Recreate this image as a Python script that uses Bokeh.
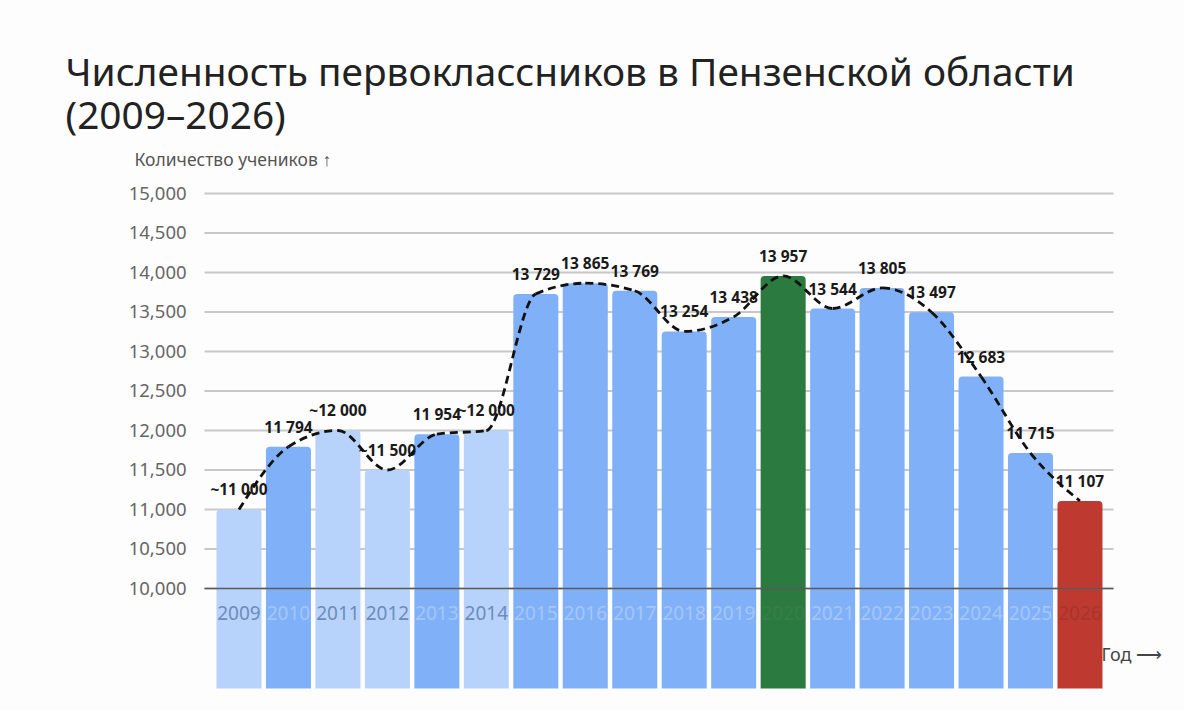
import numpy as np
from bokeh.plotting import figure
from bokeh.models import ColumnDataSource, Label
from bokeh.core.properties import value
from bokeh.embed import file_html
from bokeh.resources import INLINE

# data
years = list(range(2009, 2027))
pupils = [11000, 11794, 12000, 11500, 11954, 12000, 13729, 13865, 13769,
          13254, 13438, 13957, 13544, 13805, 13497, 12683, 11715, 11107]
approx = [True, False, True, True, False, True, False, False, False,
          False, False, False, False, False, False, False, False, False]
best_year = 2020
last_year = 2026
y_ticks = [10000, 10500, 11000, 11500, 12000, 12500, 13000, 13500, 14000, 14500, 15000]

FONT = "Noto Sans"
BG = "#fdfdfd"

# the frame fills the whole canvas; the plot area is drawn inside it
W, H = 1184, 711
X_RANGE = (2004.179, 2028.113)
Y_RANGE = (8443, 17443)
GRID_LEFT, GRID_RIGHT = 2008.303, 2026.677
TICK_X = 2007.94
BOTTOM = 8734
YEAR_Y = 9684


def bar_color(year, is_approx):
    if year == best_year:
        return "#2b7a3f", "#367f48"
    if year == last_year:
        return "#be3a30", "#a8342b"
    if is_approx:
        return "#b8d3fb", "#6d8cbb"
    return "#80b1f8", "#a4c6fa"


def fmt(v, is_approx):
    s = f"{v:,}".replace(",", " ")
    return "~" + s if is_approx else s


colors = [bar_color(y, a) for y, a in zip(years, approx)]
source = ColumnDataSource(data={
    'year': years,
    'pupils': pupils,
    'fill': [c[0] for c in colors],
    'year_color': [c[1] for c in colors],
    'label': [fmt(v, a) for v, a in zip(pupils, approx)],
    'year_text': [str(y) for y in years],
})

ticks = ColumnDataSource(data={
    'y': y_ticks,
    'text': [f"{v:,}" for v in y_ticks],
})

# monotone cubic (like d3.curveMonotoneX) through the bar tops, drawn as beziers
xs = np.array(years, dtype=float)
ys = np.array(pupils, dtype=float)
h = np.diff(xs)
s = np.diff(ys) / h
t = np.zeros(len(xs))
for i in range(1, len(xs) - 1):
    p_ = (s[i - 1] * h[i] + s[i] * h[i - 1]) / (h[i - 1] + h[i])
    t[i] = (np.sign(s[i - 1]) + np.sign(s[i])) * min(abs(s[i - 1]), abs(s[i]), 0.5 * abs(p_))
t[0] = (3 * s[0] - t[1]) / 2
t[-1] = (3 * s[-1] - t[-2]) / 2
curve = ColumnDataSource(data={
    'x0': xs[:-1], 'y0': ys[:-1], 'x1': xs[1:], 'y1': ys[1:],
    'cx0': xs[:-1] + h / 3, 'cy0': ys[:-1] + h * t[:-1] / 3,
    'cx1': xs[1:] - h / 3, 'cy1': ys[1:] - h * t[1:] / 3,
})

p = figure(width=W, height=H, x_range=X_RANGE, y_range=Y_RANGE,
           toolbar_location=None, output_backend="svg", min_border=0)
p.outline_line_color = None
p.background_fill_color = BG
p.border_fill_color = BG
p.axis.visible = False
p.grid.visible = False

# gridlines (under the bars) and tick labels
p.segment(x0=GRID_LEFT, x1=GRID_RIGHT, y0='y', y1='y', source=ticks,
          line_color="#c8c8c8", line_width=2)
p.text(x=TICK_X, y='y', text='text', source=ticks,
       text_color="#666666", text_font=value(FONT), text_font_size="18.5px",
       text_align="right", text_baseline="middle")

p.vbar(x='year', top='pupils', bottom=BOTTOM, width=0.91, source=source,
       fill_color='fill', line_color=None, border_radius=(4, 4, 0, 0))

p.text(x='year', y=YEAR_Y, text='year_text', source=source,
       text_color='year_color', text_font=value(FONT), text_font_size="19px",
       text_align="center", text_baseline="middle")

p.text(x='year', y='pupils', text='label', source=source,
       text_color="#1a1a1a", text_font=value(FONT), text_font_size="15.5px",
       text_font_style="bold", text_align="center", text_baseline="bottom",
       y_offset=-9)

p.bezier(x0='x0', y0='y0', x1='x1', y1='y1', cx0='cx0', cy0='cy0',
         cx1='cx1', cy1='cy1', source=curve,
         line_color="#111111", line_width=2.8, line_dash="8 5")

# baseline at 10,000 over the bars
p.segment(x0=[GRID_LEFT], x1=[GRID_RIGHT], y0=[y_ticks[0]], y1=[y_ticks[0]],
          line_color="#5a5a5a", line_width=1.5)

# titles and captions (screen units, from the bottom-left of the canvas)
p.add_layout(Label(x=65, y=H - 70, x_units='screen', y_units='screen',
                   text="Численность первоклассников в Пензенской области",
                   text_font=FONT, text_font_size="38.8px", text_color="#222222",
                   text_baseline="alphabetic"))
p.add_layout(Label(x=65, y=H - 113, x_units='screen', y_units='screen',
                   text="(2009–2026)",
                   text_font=FONT, text_font_size="38.8px", text_color="#222222",
                   text_baseline="alphabetic"))
p.add_layout(Label(x=134, y=H - 158, x_units='screen', y_units='screen',
                   text="Количество учеников ↑",
                   text_font=FONT, text_font_size="17.5px", text_color="#555555",
                   text_baseline="middle"))
p.add_layout(Label(x=1101, y=H - 653, x_units='screen', y_units='screen',
                   text="Год ⟶",
                   text_font=FONT, text_font_size="18px", text_color="#444444",
                   text_baseline="middle"))

open("out.html", "w").write(file_html(p, INLINE))
